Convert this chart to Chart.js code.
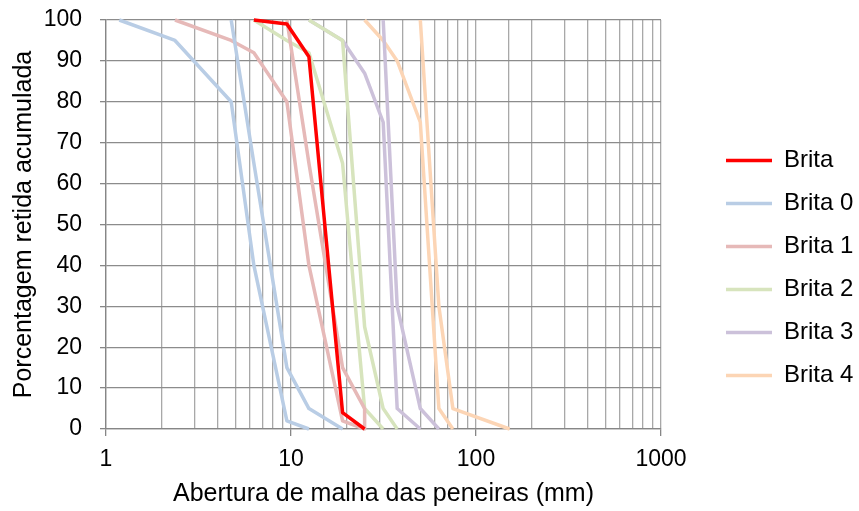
<!DOCTYPE html>
<html>
<head>
<meta charset="utf-8">
<script src="https://cdn.jsdelivr.net/npm/chart.js@4"></script>
<style>
  html, body { margin: 0; padding: 0; background: #fff; }
  #granulo { display: block; }
</style>
</head>
<body>
<canvas id="granulo" width="859" height="511"></canvas>
<script>
'use strict';

// --- data (sieve opening mm / % retained) ---
const britaX   = [6.3, 9.5, 12.5, 19, 25];
const britaY   = [100, 99, 91, 4, 0];

const brita0LoX = [1.18, 2.36, 4.75, 6.3, 9.5, 12.5];
const brita0LoY = [100, 95, 80, 40, 2, 0];
const brita0UpX = [4.75, 6.3, 9.5, 12.5, 19];
const brita0UpY = [100, 65, 15, 5, 0];

const brita1LoX = [2.36, 4.75, 6.3, 9.5, 12.5, 19, 25];
const brita1LoY = [100, 95, 92, 80, 40, 2, 0];
const brita1UpX = [9.5, 12.5, 19, 25, 25];
const brita1UpY = [100, 65, 15, 5, 0];

const brita2LoX = [6.3, 9.5, 12.5, 19, 25, 31.5];
const brita2LoY = [100, 95, 92, 65, 5, 0];
const brita2UpX = [12.5, 19, 25, 31.5, 37.5];
const brita2UpY = [100, 95, 25, 5, 0];

const brita3LoX = [12.5, 19, 25, 31.5, 37.5, 50];
const brita3LoY = [100, 95, 87, 75, 5, 0];
const brita3UpX = [31.5, 37.5, 50, 63];
const brita3UpY = [100, 30, 5, 0];

const brita4LoX = [25, 31.5, 37.5, 50, 63, 75];
const brita4LoY = [100, 95, 90, 75, 5, 0];
const brita4UpX = [50, 63, 75, 152];
const brita4UpY = [100, 30, 5, 0];

const xTickLabels = [1, 10, 100, 1000];
const yMin = 0, yMax = 100, yStep = 10;

const pts = (xs, ys) => xs.map((x, i) => ({ x, y: ys[i] }));

const FONT = "'Liberation Sans', Arial, sans-serif";
const isDecade = v => xTickLabels.some(t => Math.abs(t - v) < 1e-6 * t);

const line = (label, xs, ys, color, order, legend) => ({
  label,
  data: pts(xs, ys),
  showLine: true,
  borderColor: color,
  backgroundColor: color,
  borderWidth: 3.5,
  borderJoinStyle: 'round',
  pointRadius: 0,
  pointHoverRadius: 0,
  clip: false,
  order,
  inLegend: legend,
});

const datasets = [
  line('Brita',   britaX,    britaY,    '#FF0000', 0, true),
  line('Brita 0', brita0LoX, brita0LoY, '#B9CDE5', 1, true),
  line('Brita 0', brita0UpX, brita0UpY, '#B9CDE5', 1, false),
  line('Brita 1', brita1LoX, brita1LoY, '#E6B9B8', 2, true),
  line('Brita 1', brita1UpX, brita1UpY, '#E6B9B8', 2, false),
  line('Brita 2', brita2LoX, brita2LoY, '#D7E4BD', 3, true),
  line('Brita 2', brita2UpX, brita2UpY, '#D7E4BD', 3, false),
  line('Brita 3', brita3LoX, brita3LoY, '#CCC1DA', 4, true),
  line('Brita 3', brita3UpX, brita3UpY, '#CCC1DA', 4, false),
  line('Brita 4', brita4LoX, brita4LoY, '#FCD5B5', 5, true),
  line('Brita 4', brita4UpX, brita4UpY, '#FCD5B5', 5, false),
];

new Chart(document.getElementById('granulo'), {
  type: 'scatter',
  data: { datasets },
  options: {
    responsive: false,
    animation: false,
    events: [],
    layout: { padding: { top: 20, left: 0, right: 0, bottom: 0 } },
    plugins: {
      tooltip: { enabled: false },
      legend: {
        position: 'right',
        align: 'center',
        maxWidth: 152,
        title: { display: true, text: ' ', font: { size: 4 }, padding: 0 },
        labels: {
          usePointStyle: true,
          pointStyle: 'line',
          pointStyleWidth: 46,
          padding: 19,
          color: '#000',
          font: { size: 24, family: FONT },
          filter: (item, data) => data.datasets[item.datasetIndex].inLegend,
        },
      },
    },
    scales: {
      x: {
        type: 'logarithmic',
        min: 1,
        max: 1000,
        afterFit: s => { s.height = 82; },
        grid: {
          color: '#a8a8a8',
          lineWidth: 1.3,
          tickLength: 7,
          tickColor: c => (c.tick && isDecade(c.tick.value)) ? '#868686' : 'rgba(0,0,0,0)',
        },
        border: { color: '#868686', width: 1.3 },
        ticks: {
          autoSkip: false,
          maxRotation: 0,
          padding: 10,
          color: '#000',
          font: { size: 23, family: FONT },
          callback: v => isDecade(v) ? String(Math.round(v)) : '',
        },
        title: {
          display: true,
          text: 'Abertura de malha das peneiras (mm)',
          color: '#000',
          font: { size: 25, family: FONT },
          padding: { top: 5, bottom: 2 },
        },
      },
      y: {
        min: yMin,
        max: yMax,
        afterFit: s => { s.width = 106; s.paddingTop = 0; s.paddingBottom = 0; },
        grid: { color: '#8c8c8c', lineWidth: 1.3, tickLength: 6, tickColor: '#868686' },
        border: { color: '#868686', width: 1.3 },
        ticks: {
          stepSize: yStep,
          padding: 18,
          color: '#000',
          font: { size: 23, family: FONT },
        },
        title: {
          display: true,
          text: 'Porcentagem retida acumulada',
          color: '#000',
          font: { size: 25, family: FONT },
          padding: { top: 9, bottom: 5 },
        },
      },
      // empty spacer between plot area and legend
      gap: {
        type: 'linear',
        position: 'right',
        grid: { display: false },
        border: { display: false },
        ticks: { display: false },
        afterFit: s => { s.width = 46; },
      },
    },
  },
});
</script>
</body>
</html>
